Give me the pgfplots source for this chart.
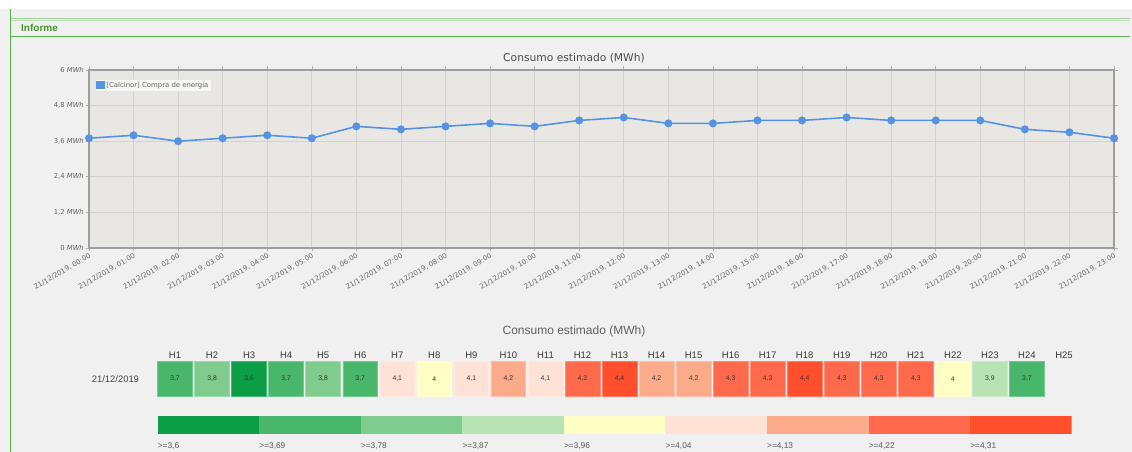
\documentclass[border=0pt]{standalone}
\usepackage{fontspec}
\setmainfont{Liberation Sans}
\newfontfamily\chartfont{DejaVu Sans}
\usepackage{pgfplots}
\pgfplotsset{compat=1.18}
\usepackage{pgfplotstable}

\definecolor{pagebg}{RGB}{240,240,240}
\definecolor{plotbg}{RGB}{232,231,227}
\definecolor{gridc}{RGB}{211,210,206}
\definecolor{linec}{RGB}{88,147,226}
\definecolor{hdrgreen}{RGB}{92,178,80}
\definecolor{hdrtext}{RGB}{70,150,45}
\definecolor{lblgray}{RGB}{100,100,100}
\definecolor{c1}{RGB}{11,158,71}
\definecolor{c2}{RGB}{72,183,107}
\definecolor{c3}{RGB}{128,204,143}
\definecolor{c4}{RGB}{184,227,180}
\definecolor{c5}{RGB}{255,255,197}
\definecolor{c6}{RGB}{255,226,214}
\definecolor{c7}{RGB}{251,170,138}
\definecolor{c8}{RGB}{254,106,75}
\definecolor{c9}{RGB}{255,79,44}

\pgfdeclareplotmark{rsq}{%
  \pgfsetcornersarced{\pgfpoint{2.5pt}{2.5pt}}%
  \pgfpathmoveto{\pgfqpoint{0pt}{-\pgfplotmarksize}}%
  \pgfpathlineto{\pgfqpoint{\pgfplotmarksize}{-\pgfplotmarksize}}%
  \pgfpathlineto{\pgfqpoint{\pgfplotmarksize}{\pgfplotmarksize}}%
  \pgfpathlineto{\pgfqpoint{-\pgfplotmarksize}{\pgfplotmarksize}}%
  \pgfpathlineto{\pgfqpoint{-\pgfplotmarksize}{-\pgfplotmarksize}}%
  \pgfpathclose
  \pgfusepathqfillstroke}

\pgfplotstableread{
h v
0 3.7
1 3.8
2 3.6
3 3.7
4 3.8
5 3.7
6 4.1
7 4.0
8 4.1
9 4.2
10 4.1
11 4.3
12 4.4
13 4.2
14 4.2
15 4.3
16 4.3
17 4.4
18 4.3
19 4.3
20 4.3
21 4.0
22 3.9
23 3.7
}\consumo

% x = hour column, v = value, k = colour class (1..9 of the scale)
\pgfplotstableread{
x y v k
1 0.5 3.7 2
2 0.5 3.8 3
3 0.5 3.6 1
4 0.5 3.7 2
5 0.5 3.8 3
6 0.5 3.7 2
7 0.5 4.1 6
8 0.5 4 5
9 0.5 4.1 6
10 0.5 4.2 7
11 0.5 4.1 6
12 0.5 4.3 8
13 0.5 4.4 9
14 0.5 4.2 7
15 0.5 4.2 7
16 0.5 4.3 8
17 0.5 4.3 8
18 0.5 4.4 9
19 0.5 4.3 8
20 0.5 4.3 8
21 0.5 4.3 8
22 0.5 4 5
23 0.5 3.9 4
24 0.5 3.7 2
}\heat

\pgfplotsset{
  cell/.style={only marks, mark=rsq, mark size=17.4pt,
    mark options={fill=#1, draw=#1!75!white, line width=0.6pt}},
}

\begin{document}
\begin{tikzpicture}[x=1pt,y=1pt]
\useasboundingbox (0,0) rectangle (1132,452);
% page frame
\fill[pagebg] (0,0) rectangle (1132,452);
\fill[white] (0,443) rectangle (1132,452);
\draw[hdrgreen!60, line width=0.8pt] (10,433.5) -- (1130,433.5);
\draw[hdrgreen!40, line width=0.6pt] (10,432) -- (1130,432);
\draw[hdrgreen, line width=0.9pt] (10,416) -- (1130,416);
\draw[hdrgreen, line width=0.9pt] (10,0) -- (10,443);
\node[anchor=west, inner sep=0pt, text=hdrtext, font=\bfseries\fontsize{10}{12}\selectfont] at (21,424) {Informe};

% line chart title
\node[inner sep=0pt, text=black!70, font=\chartfont\fontsize{10.7}{12}\selectfont] at (574,394) {Consumo estimado (MWh)};

\begin{axis}[
  at={(89pt,204pt)}, anchor=south west,
  scale only axis, width=1025pt, height=178pt,
  xmin=0, xmax=23, ymin=0, ymax=6,
  axis background/.style={fill=plotbg},
  grid=major, grid style={gridc, line width=0.8pt},
  axis line style={draw=black!38, line width=1.1pt},
  tick align=outside, major tick length=3.5pt,
  tick style={black!30, line width=0.6pt},
  xtick={0,...,23},
  xticklabels={{21/12/2019, 00:00},{21/12/2019, 01:00},{21/12/2019, 02:00},{21/12/2019, 03:00},{21/12/2019, 04:00},{21/12/2019, 05:00},{21/12/2019, 06:00},{21/12/2019, 07:00},{21/12/2019, 08:00},{21/12/2019, 09:00},{21/12/2019, 10:00},{21/12/2019, 11:00},{21/12/2019, 12:00},{21/12/2019, 13:00},{21/12/2019, 14:00},{21/12/2019, 15:00},{21/12/2019, 16:00},{21/12/2019, 17:00},{21/12/2019, 18:00},{21/12/2019, 19:00},{21/12/2019, 20:00},{21/12/2019, 21:00},{21/12/2019, 22:00},{21/12/2019, 23:00}},
  xticklabel style={rotate=30, anchor=north east, inner sep=1pt, font=\chartfont\fontsize{6.9}{8}\selectfont, text=lblgray},
  ytick={0,1.2,2.4,3.6,4.8,6},
  yticklabels={{0 \textit{MWh}},{1,2 \textit{MWh}},{2,4 \textit{MWh}},{3,6 \textit{MWh}},{4,8 \textit{MWh}},{6 \textit{MWh}}},
  yticklabel style={inner sep=1.5pt, font=\chartfont\fontsize{6.8}{8}\selectfont, text=lblgray},
  legend style={at={(0.006,0.95)}, anchor=north west, fill=white!65!plotbg, draw=white!80!gray,
    font=\chartfont\fontsize{6.9}{8}\selectfont, text=lblgray, inner xsep=1pt, inner ysep=1pt,
    nodes={inner sep=1.5pt}},
  legend image code/.code={\fill[linec] (0pt,-3.5pt) rectangle (7pt,3.5pt);},
]
\addplot[linec, line width=1.6pt, mark=*, mark size=3.2pt, mark options={fill=linec, draw=linec}] table[x=h, y=v] {\consumo};
\addlegendentry{[Calcinor] Compra de energía}
\end{axis}

% heatmap title
\node[inner sep=0pt, text=black!62, font=\fontsize{12}{14}\selectfont] at (574,121) {Consumo estimado (MWh)};

\begin{axis}[
  at={(156.5pt,55pt)}, anchor=south west,
  scale only axis, width=926pt, height=36pt,
  xmin=0.5, xmax=25.5, ymin=0, ymax=1,
  clip=false, unbounded coords=discard,
  axis line style={draw=none}, major tick length=0pt,
  xtick={1,...,25},
  xticklabels={H1,H2,H3,H4,H5,H6,H7,H8,H9,H10,H11,H12,H13,H14,H15,H16,H17,H18,H19,H20,H21,H22,H23,H24,H25},
  xticklabel pos=upper,
  xticklabel style={font=\fontsize{9.5}{11}\selectfont, text=black!78, yshift=-1pt},
  ytick={0.5}, yticklabels={21/12/2019},
  yticklabel style={font=\fontsize{9.4}{11}\selectfont, text=black!72, xshift=-14pt},
]
\addplot[cell=c1] table[x=x, y expr={\thisrow{k}==1 ? 0.5 : nan}] {\heat};
\addplot[cell=c2] table[x=x, y expr={\thisrow{k}==2 ? 0.5 : nan}] {\heat};
\addplot[cell=c3] table[x=x, y expr={\thisrow{k}==3 ? 0.5 : nan}] {\heat};
\addplot[cell=c4] table[x=x, y expr={\thisrow{k}==4 ? 0.5 : nan}] {\heat};
\addplot[cell=c5] table[x=x, y expr={\thisrow{k}==5 ? 0.5 : nan}] {\heat};
\addplot[cell=c6] table[x=x, y expr={\thisrow{k}==6 ? 0.5 : nan}] {\heat};
\addplot[cell=c7] table[x=x, y expr={\thisrow{k}==7 ? 0.5 : nan}] {\heat};
\addplot[cell=c8] table[x=x, y expr={\thisrow{k}==8 ? 0.5 : nan}] {\heat};
\addplot[cell=c9] table[x=x, y expr={\thisrow{k}==9 ? 0.5 : nan}] {\heat};
\addplot[draw=none, mark=none,
  point meta=\thisrow{v},
  nodes near coords={\pgfmathprintnumber[use comma, assume math mode=true]{\pgfplotspointmeta}},
  every node near coord/.append style={anchor=center, font=\fontsize{6.8}{8}\selectfont, text=black!80}]
  table[x=x, y=y] {\heat};
\end{axis}

% colour scale
\begin{axis}[
  at={(157.7pt,17.5pt)}, anchor=south west,
  scale only axis, width=914pt, height=18.5pt,
  xmin=0, xmax=9, ymin=0, ymax=1,
  axis line style={draw=none}, major tick length=0pt,
  ytick=\empty,
  xtick={0,...,8},
  xticklabels={{>=3,6},{>=3,69},{>=3,78},{>=3,87},{>=3,96},{>=4,04},{>=4,13},{>=4,22},{>=4,31}},
  xticklabel style={anchor=north west, inner xsep=0pt, yshift=-4.5pt, font=\fontsize{8.3}{10}\selectfont, text=black!65},
]
\addplot[fill=c1, draw=none] coordinates {(0,0) (1,0) (1,1) (0,1)} -- cycle;
\addplot[fill=c2, draw=none] coordinates {(1,0) (2,0) (2,1) (1,1)} -- cycle;
\addplot[fill=c3, draw=none] coordinates {(2,0) (3,0) (3,1) (2,1)} -- cycle;
\addplot[fill=c4, draw=none] coordinates {(3,0) (4,0) (4,1) (3,1)} -- cycle;
\addplot[fill=c5, draw=none] coordinates {(4,0) (5,0) (5,1) (4,1)} -- cycle;
\addplot[fill=c6, draw=none] coordinates {(5,0) (6,0) (6,1) (5,1)} -- cycle;
\addplot[fill=c7, draw=none] coordinates {(6,0) (7,0) (7,1) (6,1)} -- cycle;
\addplot[fill=c8, draw=none] coordinates {(7,0) (8,0) (8,1) (7,1)} -- cycle;
\addplot[fill=c9, draw=none] coordinates {(8,0) (9,0) (9,1) (8,1)} -- cycle;
\end{axis}
\end{tikzpicture}
\end{document}
